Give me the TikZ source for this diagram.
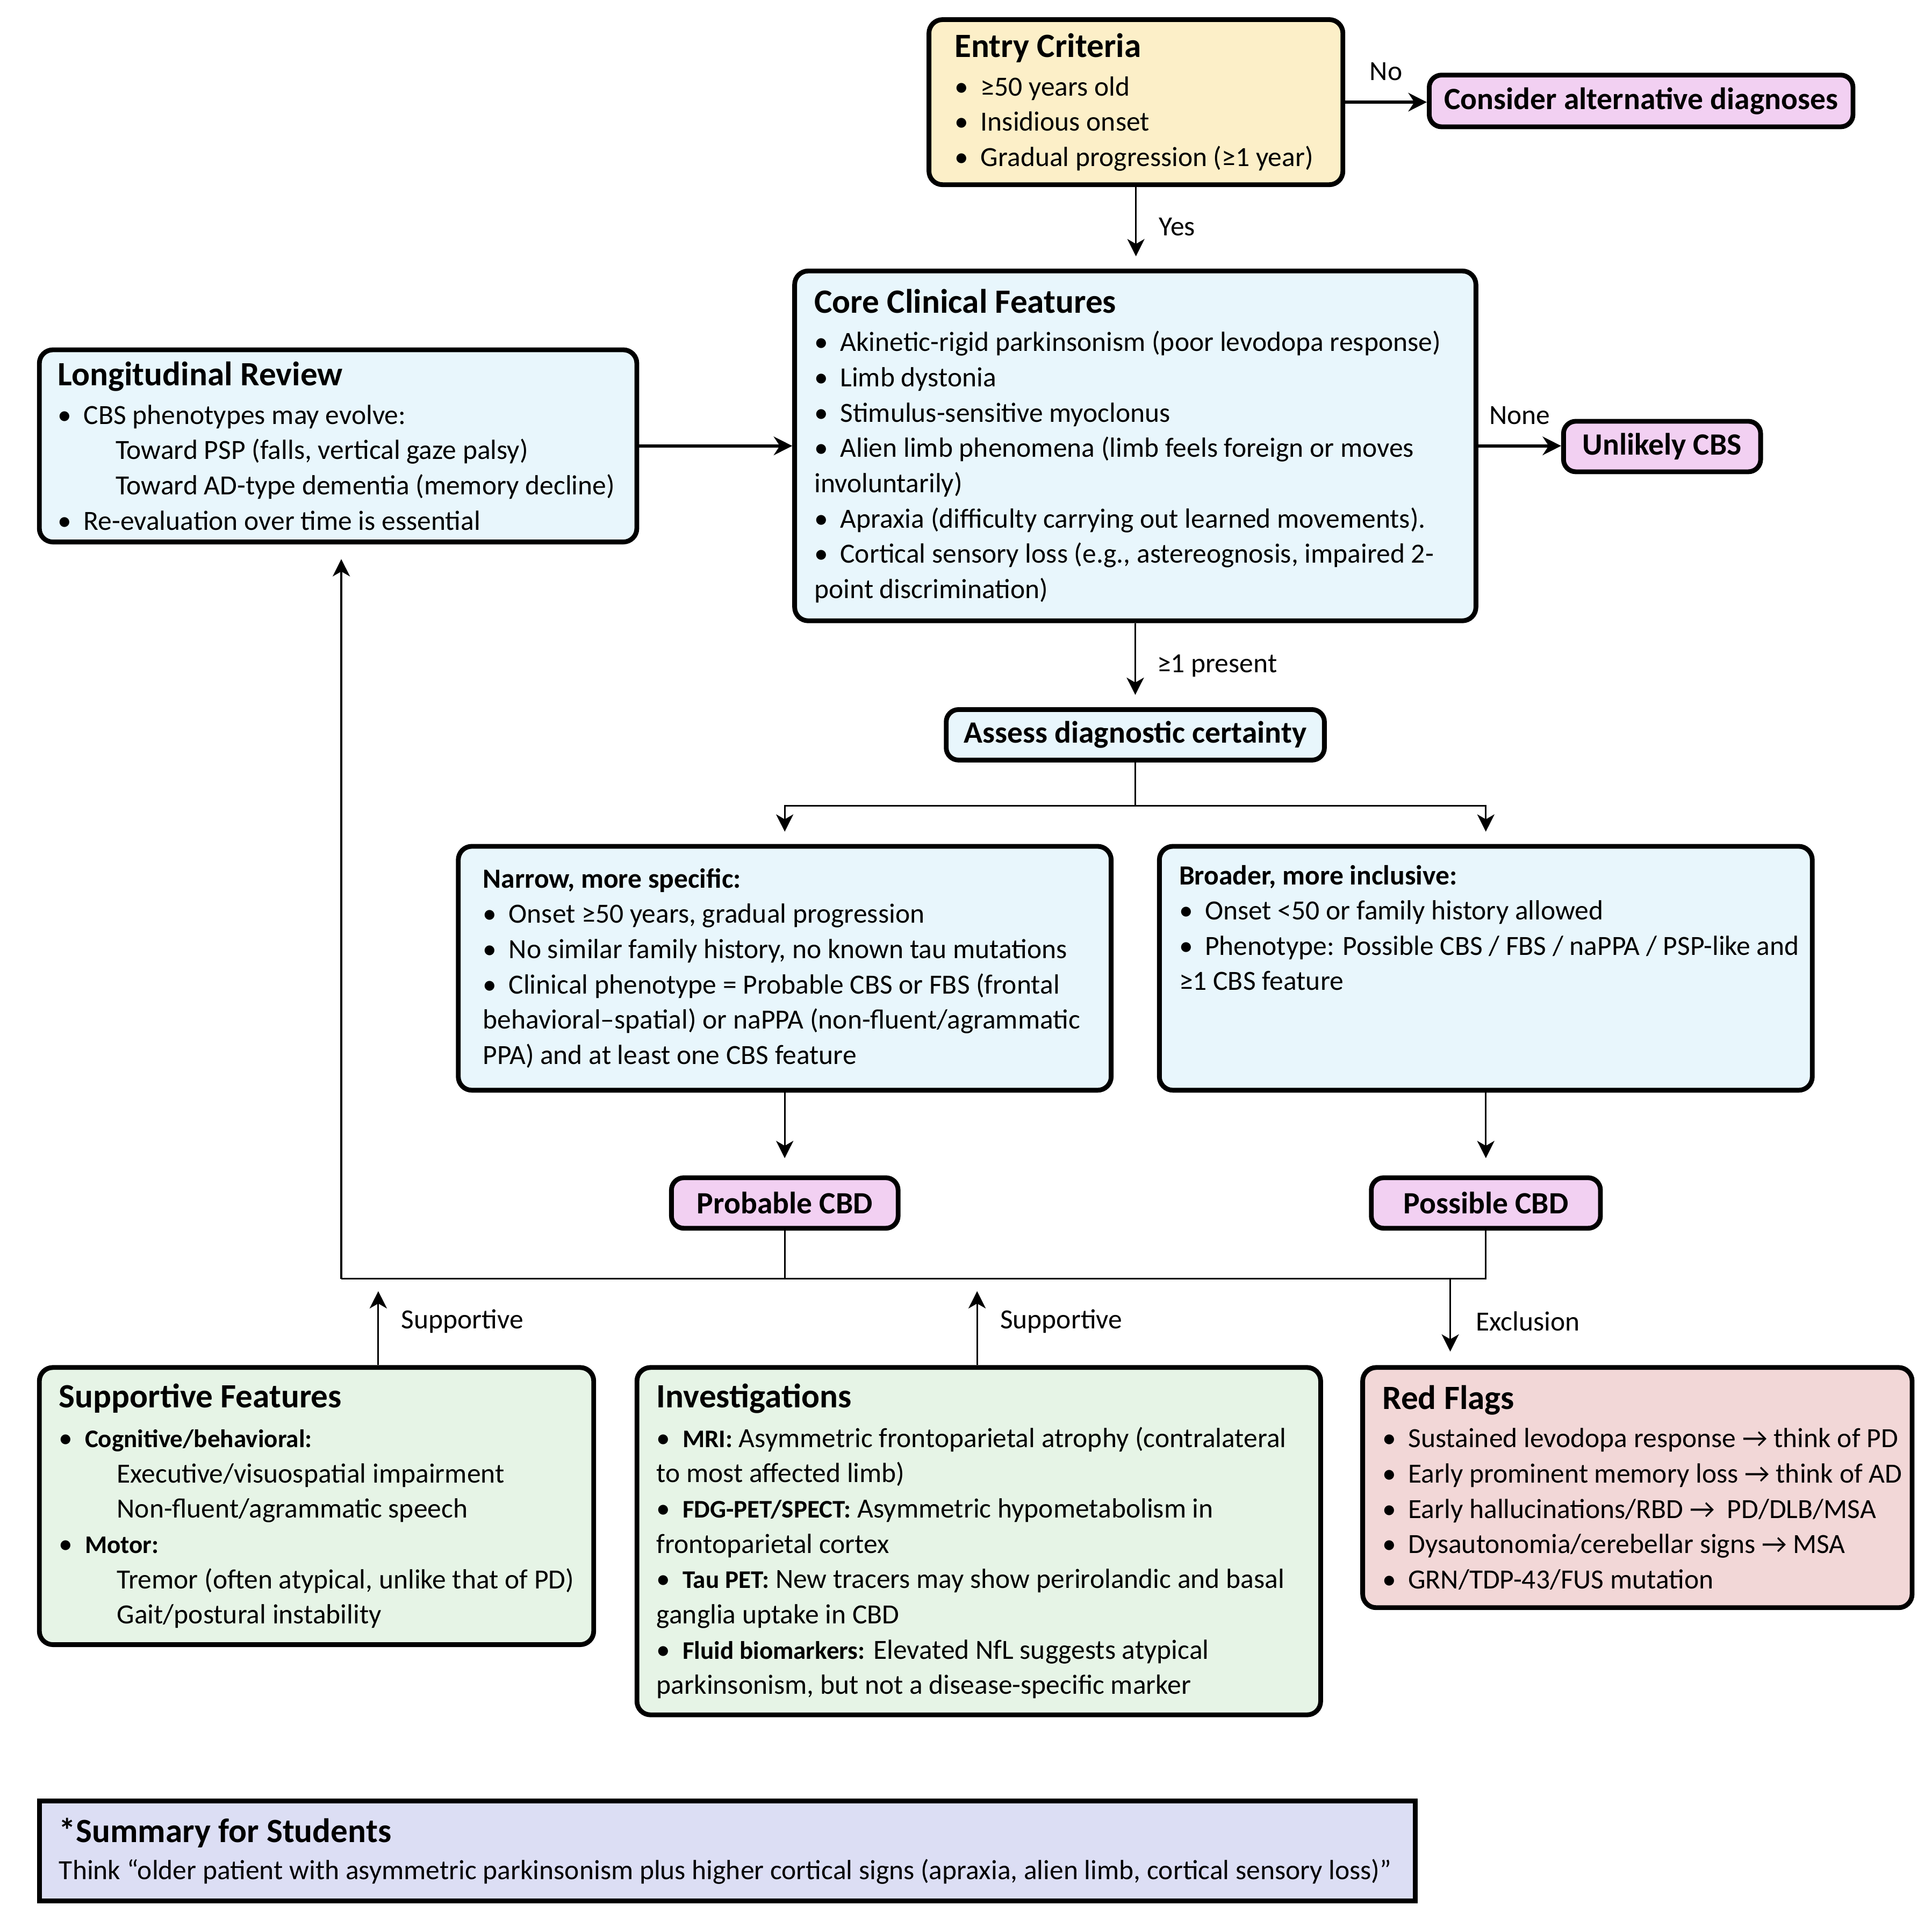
\documentclass[tikz,border=0pt]{standalone}
\usepackage{fontspec}
\setmainfont{Carlito}
\usetikzlibrary{arrows.meta}

\definecolor{entryfill}{HTML}{FCEFC8}
\definecolor{tagfill}{HTML}{F2D0F2}
\definecolor{corefill}{HTML}{E8F6FC}
\definecolor{suppfill}{HTML}{E6F4E6}
\definecolor{redfill}{HTML}{F2D7D7}
\definecolor{sumfill}{HTML}{DCDEF4}

\newcommand{\bodysize}{\fontsize{12.8pt}{16.3pt}\selectfont}
\newcommand{\tagsize}{\fontsize{14.3pt}{16pt}\selectfont\bfseries}
\newcommand{\boxtitle}[1]{{\fontsize{15.7pt}{18pt}\selectfont\bfseries #1}}
\newcommand{\subtitle}[1]{{\fontsize{12.8pt}{16.3pt}\selectfont\bfseries #1}}
\newcommand{\smallbold}[1]{{\fontsize{11.7pt}{16.3pt}\selectfont\bfseries #1}}
\newcommand{\headline}[2]{\makebox[#1][l]{#2}}
\newcommand{\bul}{\makebox[0.42cm][l]{\textbullet}}
\newcommand{\indentsub}{\hspace*{0.94cm}}

\tikzset{
  box/.style={draw, line width=2.2pt, rounded corners=0.22cm, align=left,
    inner xsep=0.32cm, inner ysep=0pt, font=\bodysize, anchor=north west},
  tagbox/.style={draw, line width=2.2pt, rounded corners=0.2cm, fill=tagfill,
    font=\tagsize, inner sep=0pt, anchor=north west},
  flow/.style={line width=0.8pt, -{Stealth[length=0.28cm,width=0.28cm,inset=0.08cm]}},
  mainflow/.style={line width=1.6pt, -{Stealth[length=0.3cm,width=0.3cm]}},
  link/.style={line width=0.8pt},
  lbl/.style={font=\bodysize, inner sep=0pt}
}

\begin{document}
\begin{tikzpicture}[x=0.02cm, y=-0.02cm]
\useasboundingbox (0,0) rectangle (1568,1558);

% Drawing box Entry Criteria
\node[box, fill=entryfill, inner xsep=0.42cm, minimum width=6.72cm, minimum height=2.68cm] (entry) at (752,14)
  {\headline{5.88cm}{\boxtitle{Entry Criteria}}\\[1.5pt]
   \bul ≥50 years old\\
   \bul Insidious onset\\
   \bul Gradual progression (≥1 year)};

% Drawing tag Consider alternative diagnoses
\node[tagbox, minimum width=6.88cm, minimum height=0.84cm] (altdx) at (1158,59)
  {Consider alternative diagnoses};

% Drawing box Core Clinical Features
\node[box, fill=corefill, minimum width=11.06cm, minimum height=5.68cm] (core) at (643,218)
  {\headline{10.42cm}{\boxtitle{Core Clinical Features}}\\[1.5pt]
   \bul Akinetic-rigid parkinsonism (poor levodopa response)\\
   \bul Limb dystonia\\
   \bul Stimulus-sensitive myoclonus\\
   \bul Alien limb phenomena (limb feels foreign or moves\\
   involuntarily)\\
   \bul Apraxia (difficulty carrying out learned movements).\\
   \bul Cortical sensory loss (e.g., astereognosis, impaired 2-\\
   point discrimination)};

% Drawing tag Unlikely CBS
\node[tagbox, minimum width=3.2cm, minimum height=0.82cm] (unlikely) at (1267,340)
  {Unlikely CBS};

% Drawing box Longitudinal Review
\node[box, fill=corefill, inner xsep=0.3cm, minimum width=9.7cm, minimum height=3.12cm] (review) at (30,282)
  {\headline{9.1cm}{\boxtitle{Longitudinal Review}}\\[1.5pt]
   \bul CBS phenotypes may evolve:\\
   \indentsub Toward PSP (falls, vertical gaze palsy)\\
   \headline{9.1cm}{\indentsub Toward AD-type dementia (memory decline)}\\
   \bul Re-evaluation over time is essential};

% Drawing tag Assess diagnostic certainty
\node[tagbox, fill=corefill, minimum width=6.14cm, minimum height=0.82cm] (assess) at (766,574)
  {Assess diagnostic certainty};

% Drawing box Narrow
\node[box, fill=corefill, inner xsep=0.4cm, minimum width=10.6cm, minimum height=3.96cm] (narrow) at (370,685)
  {\headline{9.8cm}{\subtitle{Narrow, more specific:}}\\
   \bul Onset ≥50 years, gradual progression\\
   \bul No similar family history, no known tau mutations\\
   \bul Clinical phenotype = Probable CBS or FBS (frontal\\
   behavioral–spatial) or naPPA (non-fluent/agrammatic\\
   PPA) and at least one CBS feature};

% Drawing box Broader
\node[box, fill=corefill, minimum width=10.6cm, minimum height=3.96cm] (broader) at (939,685)
  {\headline{9.96cm}{\subtitle{Broader, more inclusive:}}\\
   \bul Onset <50 or family history allowed\\
   \headline{9.96cm}{\bul Phenotype: Possible CBS / FBS / naPPA / PSP-like and}\\
   ≥1 CBS feature\\
   \strut\\
   \strut};

% Drawing tags Probable CBD, Possible CBD
\node[tagbox, minimum width=3.68cm, minimum height=0.82cm] (probable) at (543,954) {Probable CBD};
\node[tagbox, minimum width=3.72cm, minimum height=0.82cm] (possible) at (1111,954) {Possible CBD};

% Drawing box Supportive Features
\node[box, fill=suppfill, minimum width=9cm, minimum height=4.5cm] (support) at (30,1108)
  {\headline{8.36cm}{\boxtitle{Supportive Features}}\\[2pt]
   \bul \smallbold{Cognitive/behavioral:}\\
   \indentsub Executive/visuospatial impairment\\
   \indentsub Non-fluent/agrammatic speech\\
   \bul \smallbold{Motor:}\\
   \headline{8.36cm}{\indentsub Tremor (often atypical, unlike that of PD)}\\
   \indentsub Gait/postural instability};

% Drawing box Investigations
\node[box, fill=suppfill, minimum width=11.1cm, minimum height=5.64cm] (invest) at (515,1108)
  {\headline{10.46cm}{\boxtitle{Investigations}}\\[2pt]
   \headline{10.46cm}{\bul \smallbold{MRI:} Asymmetric frontoparietal atrophy (contralateral}\\
   to most affected limb)\\
   \bul \smallbold{FDG-PET/SPECT:} Asymmetric hypometabolism in\\
   frontoparietal cortex\\
   \headline{10.46cm}{\bul \smallbold{Tau PET:} New tracers may show perirolandic and basal}\\
   ganglia uptake in CBD\\
   \bul \smallbold{Fluid biomarkers:} Elevated NfL suggests atypical\\
   parkinsonism, but not a disease-specific marker};

% Drawing box Red Flags
\node[box, fill=redfill, minimum width=8.92cm, minimum height=3.9cm] (redflags) at (1104,1108)
  {\headline{8.28cm}{\boxtitle{Red Flags}}\\[1.5pt]
   \headline{8.28cm}{\bul Sustained levodopa response → think of PD}\\
   \headline{8.28cm}{\bul Early prominent memory loss → think of AD}\\
   \bul Early hallucinations/RBD →\ \ PD/DLB/MSA\\
   \bul Dysautonomia/cerebellar signs → MSA\\
   \bul GRN/TDP-43/FUS mutation};

% Drawing box Summary
\node[box, fill=sumfill, rounded corners=0pt, minimum width=22.34cm, minimum height=1.62cm] (summary) at (30,1460)
  {\headline{21.7cm}{\boxtitle{*Summary for Students}}\\[1pt]
   \headline{21.7cm}{Think “older patient with asymmetric parkinsonism plus higher cortical signs (apraxia, alien limb, cortical sensory loss)”}};

% Marking bus points
\coordinate (busL) at (277,1038);
\coordinate (busS) at (307,1038);
\coordinate (busI) at (793,1038);
\coordinate (busX) at (1177,1038);
\coordinate (split) at ([yshift=-0.7cm]assess.south);

% Drawing connectors top
\draw[mainflow] (entry.east) -- (entry.east -| altdx.west) node[lbl, midway, above=0.32cm] {No};
\draw[flow, shorten >=0.2cm] (entry.south) -- (entry.south |- core.north) node[lbl, pos=0.49, right=0.36cm] {Yes};
\draw[mainflow] (core.east) -- (core.east -| unlikely.west) node[lbl, midway, above=0.32cm] {None};
\draw[mainflow] (review.east) -- (review.east -| core.west);
\draw[flow, shorten >=0.2cm] (core.south) -- (core.south |- assess.north) node[lbl, pos=0.51, right=0.34cm] {≥1 present};

% Drawing split to Narrow and Broader
\draw[link] (assess.south) -- (split);
\draw[flow, shorten >=0.2cm] (split) -| (narrow.north);
\draw[flow, shorten >=0.2cm] (split) -| (broader.north);
\draw[flow, shorten >=0.28cm] (narrow.south) -- (narrow.south |- probable.north);
\draw[flow, shorten >=0.28cm] (broader.south) -- (broader.south |- possible.north);

% Drawing bus
\draw[link] (probable.south) -- (probable.south |- busL);
\draw[link] (possible.south) -- (possible.south |- busL) -- (busL);
\draw[flow, shorten >=0.24cm] (busL) -- (busL |- review.south);

% Drawing bottom connectors
\draw[flow, shorten >=0.2cm] (support.north -| busS) -- (busS) node[lbl, pos=0.51, right=0.36cm] {Supportive};
\draw[flow, shorten >=0.2cm] (invest.north -| busI) -- (busI) node[lbl, pos=0.51, right=0.36cm] {Supportive};
\draw[flow, shorten >=0.22cm] (busX) -- (busX |- redflags.north) node[lbl, pos=0.49, right=0.4cm] {Exclusion};

\end{tikzpicture}
\end{document}
